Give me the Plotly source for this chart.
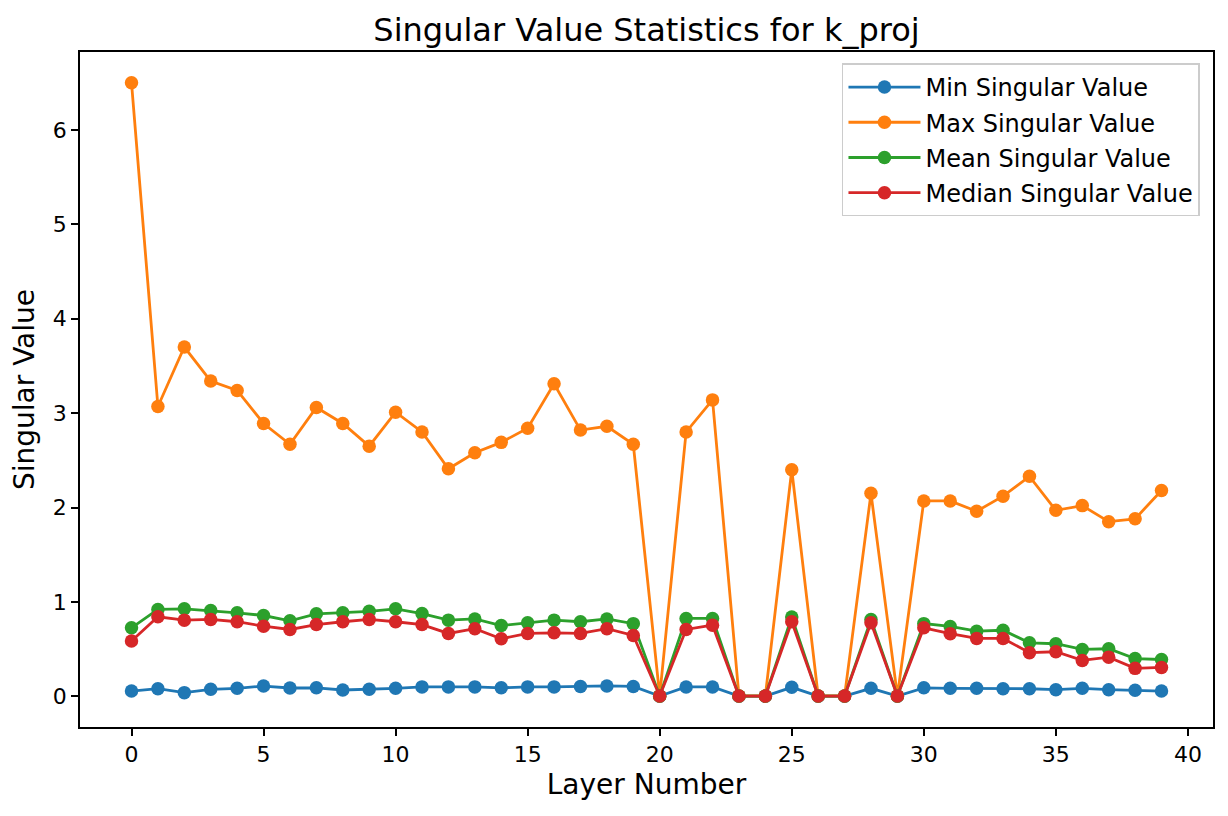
import plotly.graph_objects as go

layers = list(range(40))
min_vals = [0.056, 0.081, 0.039, 0.074, 0.085, 0.109, 0.088, 0.090, 0.067, 0.074,
            0.085, 0.100, 0.100, 0.100, 0.090, 0.100, 0.100, 0.105, 0.110, 0.105,
            0.002, 0.099, 0.099, 0.002, 0.002, 0.095, 0.002, 0.002, 0.085, 0.002,
            0.090, 0.085, 0.085, 0.080, 0.080, 0.070, 0.085, 0.070, 0.064, 0.056]
max_vals = [6.50, 3.07, 3.70, 3.34, 3.24, 2.89, 2.67, 3.06, 2.89, 2.65,
            3.01, 2.80, 2.41, 2.58, 2.69, 2.84, 3.31, 2.82, 2.86, 2.67,
            0.004, 2.80, 3.14, 0.004, 0.004, 2.40, 0.004, 0.004, 2.15, 0.004,
            2.07, 2.07, 1.96, 2.12, 2.33, 1.97, 2.02, 1.85, 1.88, 2.18]
mean_vals = [0.726, 0.920, 0.927, 0.910, 0.885, 0.856, 0.800, 0.874, 0.885, 0.900,
             0.927, 0.877, 0.807, 0.820, 0.750, 0.780, 0.807, 0.790, 0.820, 0.770,
             0.003, 0.825, 0.825, 0.003, 0.003, 0.840, 0.003, 0.003, 0.814, 0.003,
             0.770, 0.740, 0.690, 0.700, 0.567, 0.557, 0.497, 0.504, 0.400, 0.390]
median_vals = [0.585, 0.842, 0.807, 0.814, 0.790, 0.743, 0.708, 0.760, 0.790, 0.814,
               0.790, 0.760, 0.666, 0.716, 0.610, 0.666, 0.673, 0.666, 0.716, 0.645,
               0.003, 0.708, 0.754, 0.003, 0.003, 0.790, 0.003, 0.003, 0.780, 0.003,
               0.726, 0.663, 0.613, 0.613, 0.462, 0.472, 0.380, 0.415, 0.296, 0.306]

series = [
    ("Min Singular Value", min_vals, "#1f77b4"),
    ("Max Singular Value", max_vals, "#ff7f0e"),
    ("Mean Singular Value", mean_vals, "#2ca02c"),
    ("Median Singular Value", median_vals, "#d62728"),
]

fig = go.Figure()
for name, vals, color in series:
    fig.add_trace(go.Scatter(
        x=layers, y=vals, name=name, mode="lines+markers", legendgroup=name,
        line=dict(color=color, width=2.8),
        marker=dict(color=color, size=13.5),
    ))

fig.update_layout(
    width=1220, height=808,
    paper_bgcolor="white", plot_bgcolor="white",
    font=dict(family="DejaVu Sans", size=22, color="black"),
    margin=dict(l=72, r=15, t=44, b=89),
    title=dict(text="Singular Value Statistics for k_proj", x=0.5, xref="paper", xanchor="center",
               y=0.973, yanchor="middle", font=dict(size=32)),
    showlegend=True,
    legend=dict(x=0.9885, y=0.983, xanchor="right", yanchor="top",
                bgcolor="rgba(255,255,255,0.8)", bordercolor="#cccccc", borderwidth=1.5,
                font=dict(size=24), tracegroupgap=1, itemwidth=72),
)
fig.update_xaxes(range=[-1.95, 40.95], tickvals=[0, 5, 10, 15, 20, 25, 30, 35, 40],
                 showline=True, linecolor="black", linewidth=1.6, mirror=True,
                 ticks="outside", ticklen=7, tickwidth=1.6, tickcolor="black",
                 showgrid=False, zeroline=False,
                 title=dict(text="Layer Number", font=dict(size=28), standoff=8))
fig.update_yaxes(range=[-0.325, 6.825], tickvals=[0, 1, 2, 3, 4, 5, 6],
                 showline=True, linecolor="black", linewidth=1.6, mirror=True,
                 ticks="outside", ticklen=7, tickwidth=1.6, tickcolor="black",
                 showgrid=False, zeroline=False,
                 title=dict(text="Singular Value", font=dict(size=28), standoff=10))

fig.write_html("out.html")
